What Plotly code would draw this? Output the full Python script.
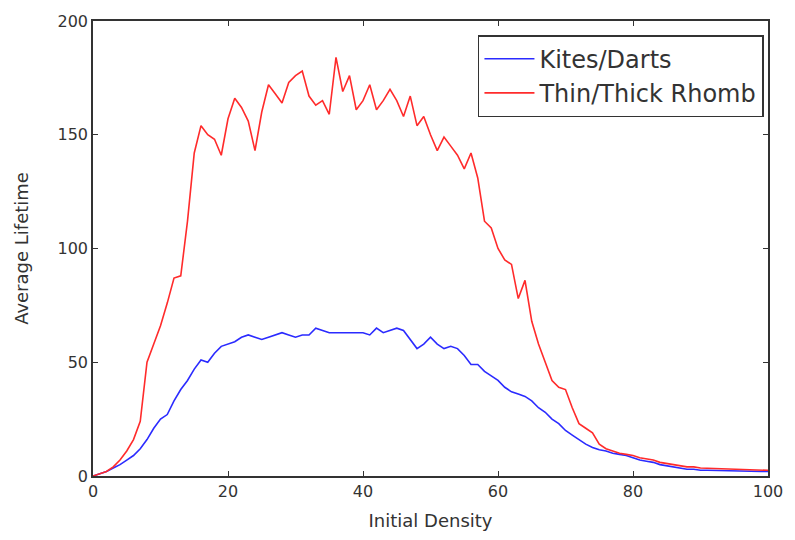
import plotly.graph_objects as go

# Initial density (percent) sampled at every integer step
density = list(range(0, 101))

# Average lifetime for the kites/darts tiling
kites_darts = [
    0, 1, 2, 3.5, 5, 7, 9, 12, 16, 21,
    25, 27, 33, 38, 42, 47, 51, 50, 54, 57,
    58, 59, 61, 62, 61, 60, 61, 62, 63, 62,
    61, 62, 62, 65, 64, 63, 63, 63, 63, 63,
    63, 62, 65, 63, 64, 65, 64, 60, 56, 58,
    61, 58, 56, 57, 56, 53, 49, 49, 46, 44,
    42, 39, 37, 36, 35, 33, 30, 28, 25, 23,
    20, 18, 16, 14, 12.5, 11.5, 11, 10, 9.5, 9,
    8, 7, 6.5, 6, 5, 4.5, 4, 3.5, 3, 3,
    2.5, 2.5, 2.4, 2.3, 2.2, 2.2, 2.1, 2.1, 2, 2,
    2,
]

# Average lifetime for the thin/thick rhomb tiling
thin_thick = [
    0, 1, 2, 4, 7, 11, 16, 24, 50, 58,
    66, 76, 87, 88, 112, 142, 154, 150, 148, 141,
    157, 166, 162, 156, 143, 160, 172, 168, 164, 173,
    176, 178, 167, 163, 165, 159, 184, 169, 176, 161,
    165, 172, 161, 165, 170, 165, 158, 167, 154, 158,
    150, 143, 149, 145, 141, 135, 142, 131, 112, 109,
    100, 95, 93, 78, 86, 68, 58, 50, 42, 39,
    38, 30, 23, 21, 19, 14, 12, 11, 10, 9.5,
    9, 8, 7.5, 7, 6, 5.5, 5, 4.5, 4, 4,
    3.5, 3.4, 3.3, 3.2, 3.1, 3, 2.9, 2.8, 2.7, 2.6,
    2.5,
]

x_ticks = [0, 20, 40, 60, 80, 100]
y_ticks = [0, 50, 100, 150, 200]

font_family = "DejaVu Sans"
ink = "#333333"

fig = go.Figure()
fig.add_trace(go.Scatter(
    x=density, y=kites_darts, mode="lines", name="Kites/Darts",
    line=dict(color="#2b2bff", width=1.6),
))
fig.add_trace(go.Scatter(
    x=density, y=thin_thick, mode="lines", name="Thin/Thick Rhomb",
    line=dict(color="#ff2b2b", width=1.6),
))

axis_common = dict(
    showgrid=False, zeroline=False,
    showline=True, linecolor=ink, linewidth=1.5, mirror="ticks",
    ticks="inside", ticklen=5, tickcolor=ink, tickwidth=1,
    tickfont=dict(family=font_family, size=16, color=ink),
)

fig.update_xaxes(
    range=[0, 100], tickvals=x_ticks,
    title=dict(text="Initial Density", font=dict(family=font_family, size=18, color=ink), standoff=14),
    **axis_common,
)
fig.update_yaxes(
    range=[0, 200], tickvals=y_ticks,
    title=dict(text="Average Lifetime", font=dict(family=font_family, size=18, color=ink), standoff=24),
    **axis_common,
)

fig.update_layout(
    width=795, height=540,
    margin=dict(l=93, r=23, t=18, b=64),
    paper_bgcolor="white", plot_bgcolor="white",
    font=dict(family=font_family, color=ink),
    legend=dict(
        x=0.994, y=0.969, xanchor="right", yanchor="top",
        bgcolor="white", bordercolor=ink, borderwidth=1.5,
        font=dict(family=font_family, size=24, color=ink),
        tracegroupgap=0, itemwidth=50,
    ),
)

fig.write_html("out.html")
